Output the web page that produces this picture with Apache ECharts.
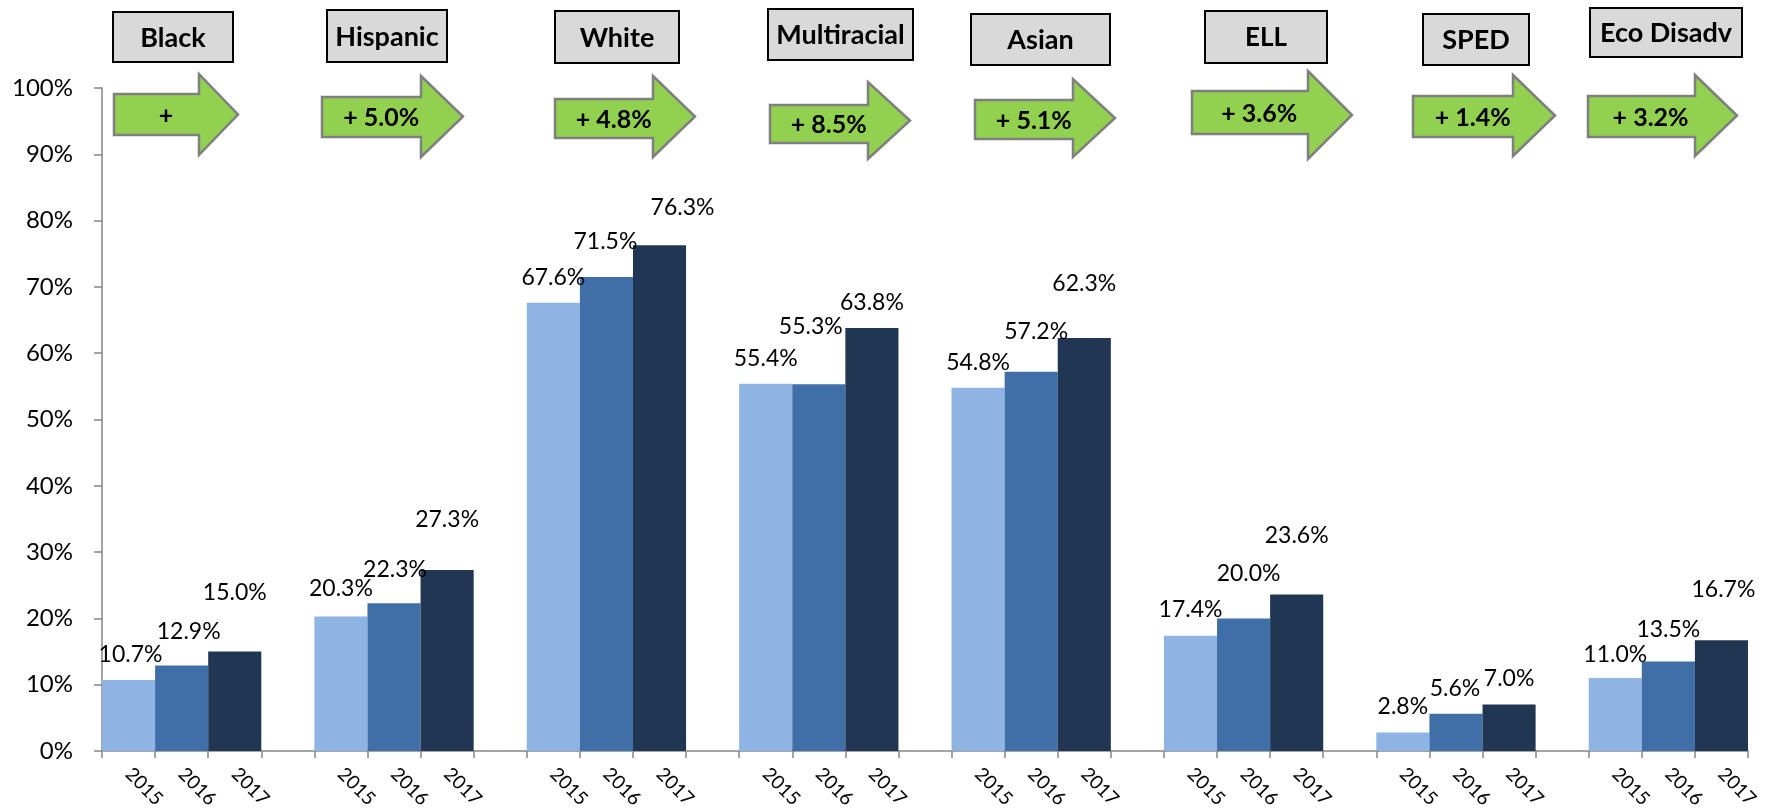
<!DOCTYPE html>
<html><head><meta charset="utf-8">
<script src="https://cdn.jsdelivr.net/npm/echarts@6/dist/echarts.min.js"></script>
<style>html,body{margin:0;padding:0;background:#fff}#c{width:1775px;height:811px}</style>
</head><body><div id="c"></div>
<script>
// ---- data ----
const groups = ['Black', 'Hispanic', 'White', 'Multiracial', 'Asian', 'ELL', 'SPED', 'Eco Disadv'];
const years = ['2015', '2016', '2017'];
const values2015 = [10.7, 20.3, 67.6, 55.4, 54.8, 17.4, 2.8, 11.0];
const values2016 = [12.9, 22.3, 71.5, 55.3, 57.2, 20.0, 5.6, 13.5];
const values2017 = [15.0, 27.3, 76.3, 63.8, 62.3, 23.6, 7.0, 16.7];
const changeLabels = ['+', '+ 5.0%', '+ 4.8%', '+ 8.5%', '+ 5.1%', '+ 3.6%', '+ 1.4%', '+ 3.2%'];

// ---- styling / layout (not data) ----
const yearColors = ['#8EB4E3', '#406EA6', '#213652'];
const FONT = 'Lato, "Open Sans", sans-serif';
// per-bar label nudges [dx, dy] (manually placed labels in the original)
const labelNudges = [
  [[2,-9],[7,-17],[0,-42]],
  [[0,-11],[1,-17],[0,-34]],
  [[0,-9],[-1,-19],[23,-21]],
  [[0,-9],[-8,-41],[0,-9]],
  [[0,-9],[5,-24],[0,-38]],
  [[0,-10],[5,-28],[0,-42]],
  [[0,-9],[-1,-9],[0,-10]],
  [[0,-7],[0,-15],[2,-34]]
];
// header boxes [x, y, w, h, fontSize]
const boxLayout = [
  [113,12,120,50,27],[327,10,120,52,27],[555,11,124,52,27],[768,9,145,51,27],
  [971,14,139,51,27],[1205,11,122,52,26],[1423,14,106,51,27],[1590,8,152,49,27]
];
// arrows [left, headBase, tip, headTop, headBottom, bodyTop, bodyBottom]
const arrowLayout = [
  [114,199,238,74,155,94,135],[322,421,463,76,157,97,137],[555,653,695,76,157,99,138],
  [770,868,910,82,159,105,143],[975,1073,1115,79,157,100,139],[1192,1308,1352,71,159,91,134],
  [1413,1513,1555,75,156,96,137],[1588,1695,1737,75,156,96,137]
];

// ---- build category axis + bar data ----
const categories = [];
const barData = [];
const seriesByYear = [values2015, values2016, values2017];
groups.forEach((g, gi) => {
  years.forEach((y, yi) => {
    categories.push(y);
    barData.push({
      value: seriesByYear[yi][gi],
      itemStyle: { color: yearColors[yi] },
      label: { offset: labelNudges[gi][yi] }
    });
  });
  if (gi < groups.length - 1) {
    categories.push('');
    barData.push(null);
  }
});

// ---- graphics (headers + arrows) ----
const graphics = [];
groups.forEach((g, i) => {
  const b = boxLayout[i];
  graphics.push({
    type: 'rect', shape: { x: b[0], y: b[1], width: b[2], height: b[3] },
    style: { fill: '#D9D9D9', stroke: '#000', lineWidth: 2 }, z: 10
  });
  graphics.push({
    type: 'text', z: 11,
    style: { text: g, x: b[0] + b[2] / 2, y: b[1] + b[3] / 2 + 1, align: 'center', verticalAlign: 'middle',
      fontSize: b[4], fontWeight: 'bold', fontFamily: FONT, fill: '#000' }
  });
  const a = arrowLayout[i];
  graphics.push({
    type: 'polygon', z: 10,
    shape: { points: [[a[0], a[5]], [a[1], a[5]], [a[1], a[3]], [a[2], (a[3] + a[4]) / 2], [a[1], a[4]], [a[1], a[6]], [a[0], a[6]]] },
    style: { fill: '#92D050', stroke: '#7F7F7F', lineWidth: 2.5, lineJoin: 'miter' }
  });
  graphics.push({
    type: 'text', z: 11,
    style: { text: changeLabels[i], x: a[0] + 0.42 * (a[2] - a[0]), y: (a[5] + a[6]) / 2 + 1, align: 'center', verticalAlign: 'middle',
      fontSize: 25, fontWeight: 'bold', fontFamily: FONT, fill: '#000' }
  });
});

const chart = echarts.init(document.getElementById('c'));
chart.setOption({
  animation: false,
  backgroundColor: '#fff',
  textStyle: { fontFamily: FONT },
  grid: { left: 102, right: 27, top: 88, bottom: 59, containLabel: false },
  xAxis: {
    type: 'category',
    data: categories,
    axisLine: { lineStyle: { color: '#868686', width: 1.5 } },
    axisTick: { show: true, interval: 0, length: 7, lineStyle: { color: '#868686', width: 1.5 } },
    axisLabel: { interval: 0, rotate: -45, margin: 20, fontSize: 19, color: '#000', fontFamily: FONT }
  },
  yAxis: {
    type: 'value', min: 0, max: 100, interval: 10,
    splitLine: { show: false },
    axisLine: { show: true, lineStyle: { color: '#868686', width: 1.5 } },
    axisTick: { show: true, length: 8, lineStyle: { color: '#868686', width: 1.5 } },
    axisLabel: { formatter: '{value}%', fontSize: 24, color: '#000', margin: 29, fontFamily: FONT }
  },
  series: [{
    type: 'bar',
    data: barData,
    barCategoryGap: '0%',
    label: {
      show: true, position: 'top', distance: 5,
      formatter: p => p.value.toFixed(1) + '%',
      fontSize: 23, color: '#000', fontFamily: FONT
    }
  }],
  graphic: graphics
});
</script>
</body></html>
